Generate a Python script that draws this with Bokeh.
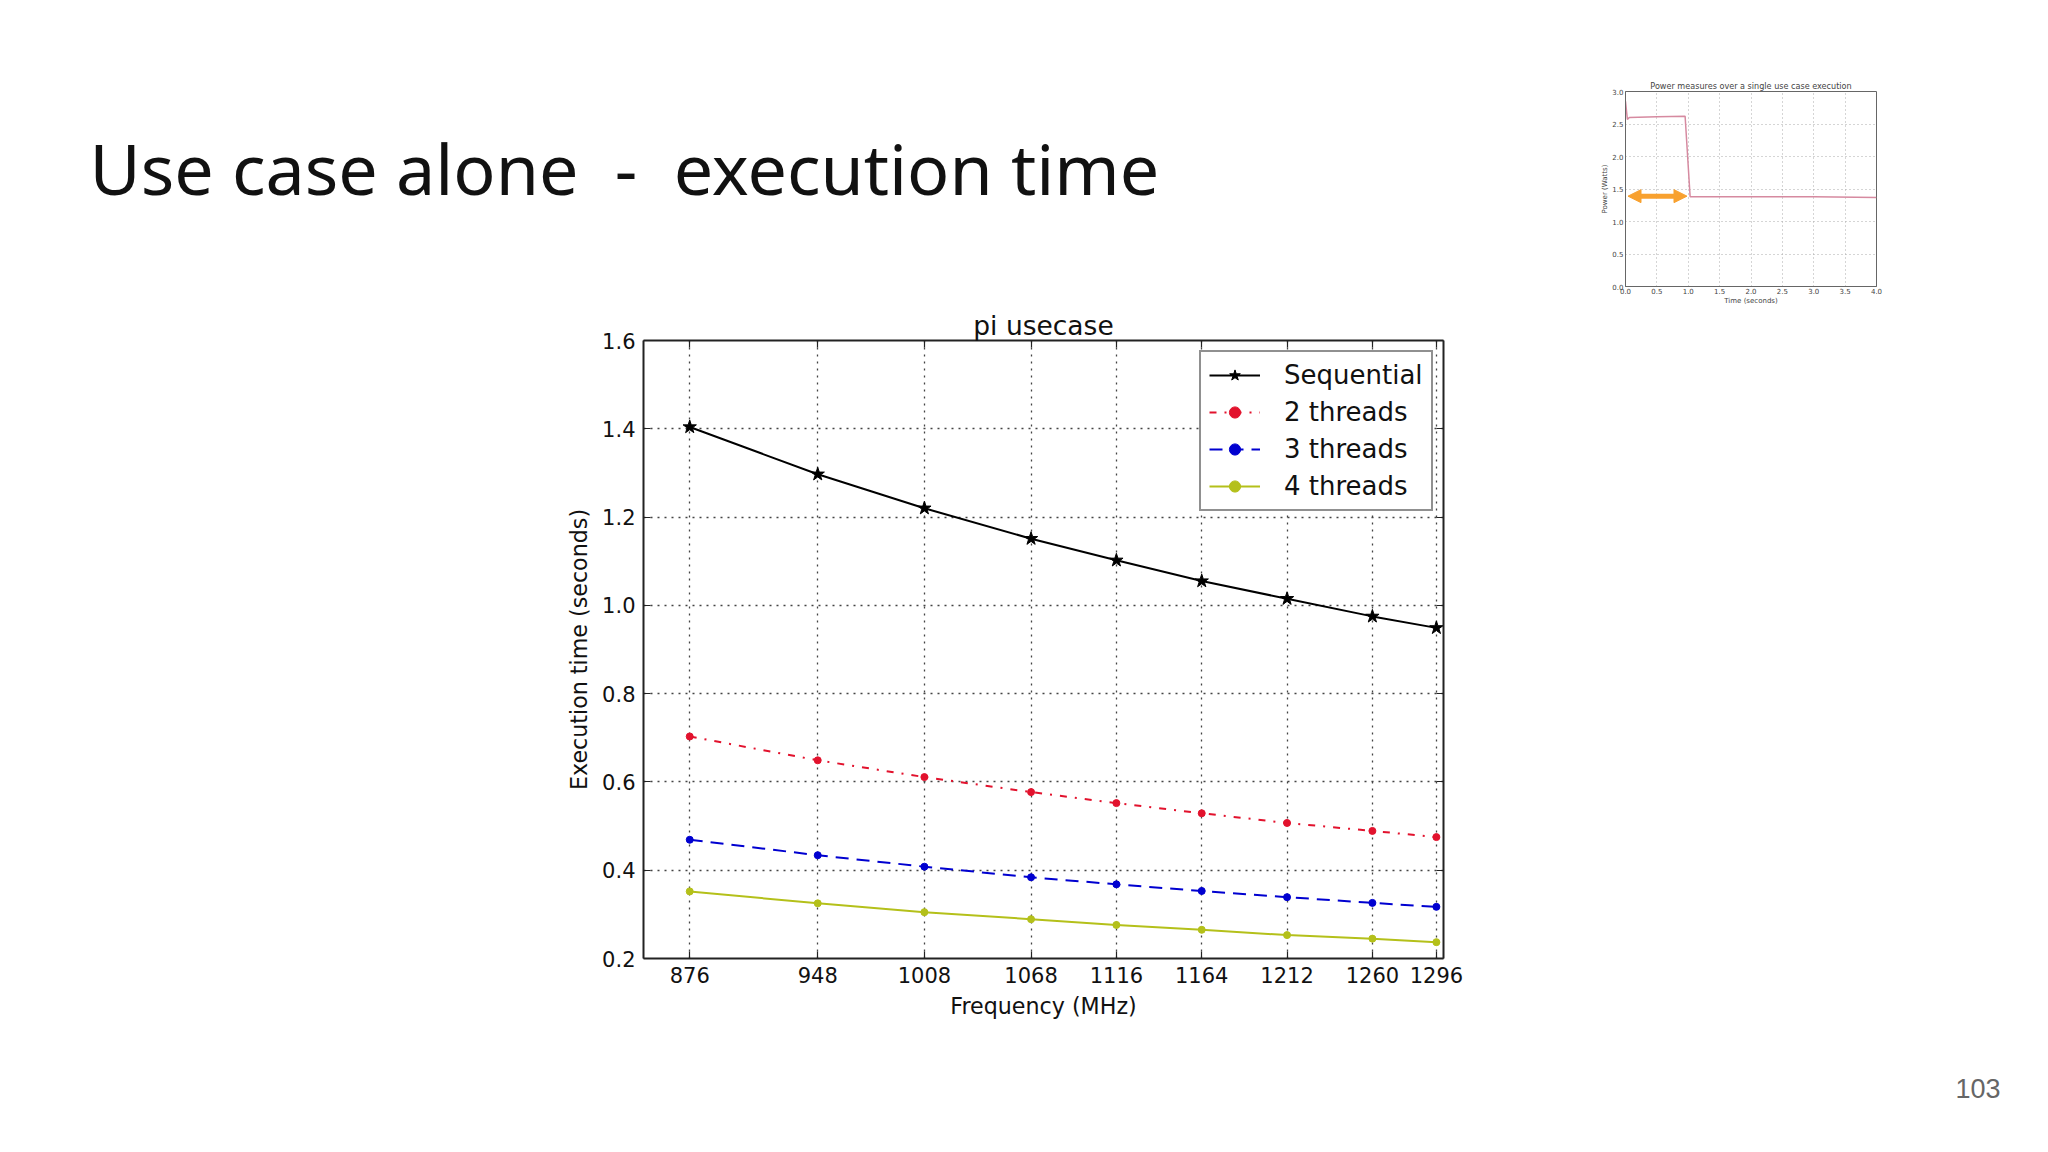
from bokeh.embed import file_html
from bokeh.resources import INLINE
from bokeh.layouts import column, row
from bokeh.models import (Range1d, Label, Legend, LegendItem, LinearAxis, FixedTicker, Grid,
                          NumeralTickFormatter, Arrow, NormalHead, Spacer)
from bokeh.plotting import figure

# ---------- data ----------
frequencies = [876, 948, 1008, 1068, 1116, 1164, 1212, 1260, 1296]
sequential = [1.404, 1.297, 1.220, 1.151, 1.102, 1.055, 1.015, 0.975, 0.949]
threads_2 = [0.703, 0.649, 0.611, 0.577, 0.552, 0.529, 0.507, 0.489, 0.475]
threads_3 = [0.469, 0.434, 0.408, 0.384, 0.368, 0.353, 0.339, 0.326, 0.317]
threads_4 = [0.352, 0.325, 0.305, 0.289, 0.276, 0.265, 0.253, 0.245, 0.237]
y_ticks = [0.2, 0.4, 0.6, 0.8, 1.0, 1.2, 1.4, 1.6]

power_time = [0.0, 0.03, 0.06, 0.5, 0.95, 1.03, 2.0, 3.0, 4.0]
power_watts = [2.85, 2.57, 2.60, 2.61, 2.62, 1.38, 1.38, 1.38, 1.37]
inset_x_ticks = [0, 0.5, 1, 1.5, 2, 2.5, 3, 3.5, 4]
inset_y_ticks = [0, 0.5, 1, 1.5, 2, 2.5, 3]
span_start, span_end, span_level = 0.04, 0.98, 1.39

FONT = "DejaVu Sans"
INK = "#111111"

# ---------- slide heading ----------
head = figure(width=1570, height=303, output_backend="svg", toolbar_location=None,
              x_range=Range1d(0, 1570), y_range=Range1d(303, 0), x_axis_location=None,
              y_axis_location=None, min_border=0, outline_line_color=None)
head.grid.visible = False
head.add_layout(Label(x=89, y=122, text="Use case alone\u00a0 -\u00a0 execution time",
                      text_font="Noto Sans", text_font_size="70px", text_color="#111111",
                      text_baseline="middle"))

# ---------- inset ----------
GREY = "#444444"
inset = figure(width=470, height=303, frame_width=251, frame_height=195,
               output_backend="svg", toolbar_location=None,
               x_range=Range1d(0, 4), y_range=Range1d(0, 3),
               min_border_left=55, min_border_right=164, min_border_top=91, min_border_bottom=17,
               x_axis_label="Time (seconds)", y_axis_label="Power (Watts)",
               title="Power measures over a single use case execution")
inset.title.text_font = FONT
inset.title.text_font_size = "8.1px"
inset.title.text_font_style = "normal"
inset.title.text_color = GREY
inset.title.align = "center"
inset.title.standoff = 2
inset.xaxis.ticker = FixedTicker(ticks=inset_x_ticks)
inset.yaxis.ticker = FixedTicker(ticks=inset_y_ticks)
inset.xaxis.formatter = NumeralTickFormatter(format="0.0")
inset.yaxis.formatter = NumeralTickFormatter(format="0.0")
for ax in (inset.xaxis[0], inset.yaxis[0]):
    ax.axis_line_color = "#666666"
    ax.major_tick_in = 0
    ax.major_tick_out = 0
    ax.major_tick_line_color = None
    ax.minor_tick_line_color = None
    ax.major_label_text_font = FONT
    ax.major_label_text_font_size = "7px"
    ax.major_label_text_color = GREY
    ax.major_label_standoff = 1
    ax.axis_label_text_font = FONT
    ax.axis_label_text_font_size = "7px"
    ax.axis_label_text_font_style = "normal"
    ax.axis_label_text_color = GREY
    ax.axis_label_standoff = 0
inset.yaxis[0].major_label_standoff = 2
inset.outline_line_color = "#666666"
inset.grid.grid_line_color = "#aaaaaa"
inset.grid.grid_line_dash = [1, 3]
inset.line(power_time, power_watts, line_color="#d68aa0", line_width=1.5)
inset.add_layout(Arrow(x_start=span_start, y_start=span_level, x_end=span_end, y_end=span_level,
                       line_color="#f8a12f", line_width=5,
                       start=NormalHead(size=13, fill_color="#f8a12f", line_color="#f8a12f"),
                       end=NormalHead(size=13, fill_color="#f8a12f", line_color="#f8a12f")))

# ---------- main chart ----------
p = figure(width=1500, height=757, frame_width=800, frame_height=618,
           output_backend="svg", toolbar_location=None,
           x_range=Range1d(850, 1300), y_range=Range1d(0.2, 1.6),
           min_border_left=643, min_border_right=57, min_border_top=38, min_border_bottom=101,
           x_axis_location=None, y_axis_location=None,
           title="pi usecase", border_fill_color=None, margin=(-5, 0, 0, 0))
p.title.text_font = FONT
p.title.text_font_size = "26.5px"
p.title.text_font_style = "normal"
p.title.text_color = INK
p.title.align = "center"
p.title.standoff = 0
p.grid.visible = False

bottom_axis = LinearAxis(axis_label="Frequency (MHz)")
left_axis = LinearAxis(axis_label="Execution time (seconds)")
top_axis = LinearAxis()
right_axis = LinearAxis()
p.add_layout(bottom_axis, "below")
p.add_layout(left_axis, "left")
p.add_layout(top_axis, "above")
p.add_layout(right_axis, "right")
top_axis.ticker = FixedTicker(ticks=frequencies)
bottom_axis.ticker = FixedTicker(ticks=frequencies)
left_axis.ticker = FixedTicker(ticks=y_ticks)
right_axis.ticker = FixedTicker(ticks=y_ticks)
top_axis.major_label_overrides = {f: "" for f in frequencies}
right_axis.major_label_overrides = {t: "" for t in y_ticks}
for ax in (top_axis, right_axis):
    ax.major_label_text_font_size = "1px"
    ax.major_label_standoff = 0
left_axis.formatter = NumeralTickFormatter(format="0.0")
for ax in (bottom_axis, left_axis, top_axis, right_axis):
    ax.axis_line_color = "#222222"
    ax.axis_line_width = 2
    ax.major_tick_in = 7
    ax.major_tick_out = 0
    ax.major_tick_line_color = "#222222"
    ax.major_tick_line_width = 1.2
    ax.minor_tick_line_color = None
for ax in (bottom_axis, left_axis):
    ax.major_label_text_font = FONT
    ax.major_label_text_font_size = "21px"
    ax.major_label_text_color = INK
    ax.major_label_standoff = 8
    ax.axis_label_text_font = FONT
    ax.axis_label_text_font_size = "22.2px"
    ax.axis_label_text_font_style = "normal"
    ax.axis_label_text_color = INK
    ax.axis_label_standoff = 7
p.outline_line_color = None
for g in (Grid(dimension=0, ticker=FixedTicker(ticks=frequencies)),
          Grid(dimension=1, ticker=FixedTicker(ticks=y_ticks))):
    g.grid_line_color = "#444444"
    g.grid_line_width = 1.3
    g.grid_line_dash = [2, 5]
    p.add_layout(g)

series = [
    ("Sequential", sequential, "#000000", "solid", "star", 14),
    ("2 threads", threads_2, "#e2122d", [7, 8, 2, 8], "circle", 7),
    ("3 threads", threads_3, "#0000d0", [13, 8], "circle", 7),
    ("4 threads", threads_4, "#b4c01a", "solid", "circle", 7),
]
items = []
for name, vals, color, dash, marker, size in series:
    ln = p.line(frequencies, vals, line_color=color, line_width=2, line_dash=dash)
    sc = p.scatter(frequencies, vals, marker=marker, size=size, fill_color=color, line_color=color)
    items.append(LegendItem(label=name, renderers=[ln, sc]))

legend = Legend(items=items, location=(556, 447), padding=8, margin=0, spacing=7,
                glyph_width=51, glyph_height=28, label_height=28, label_standoff=24,
                label_text_font=FONT, label_text_font_size="26px", label_text_color=INK,
                label_text_baseline="middle",
                border_line_color="#222222", border_line_width=2, background_fill_alpha=1.0)
p.add_layout(legend)

# ---------- page number ----------
foot = figure(width=140, height=84, frame_width=140, frame_height=84,
              output_backend="svg", toolbar_location=None,
              x_range=Range1d(0, 140), y_range=Range1d(84, 0), x_axis_location=None,
              y_axis_location=None, min_border=0, outline_line_color=None)
foot.grid.visible = False
foot.add_layout(Label(x=55, y=29, text="103", text_font="Liberation Sans",
                      text_font_size="27px", text_color="#666666", text_baseline="middle"))

page = column(row(head, inset, spacing=0), p,
              row(Spacer(width=1900, height=84), foot, spacing=0), spacing=0)
open("out.html", "w").write(file_html(page, INLINE))
